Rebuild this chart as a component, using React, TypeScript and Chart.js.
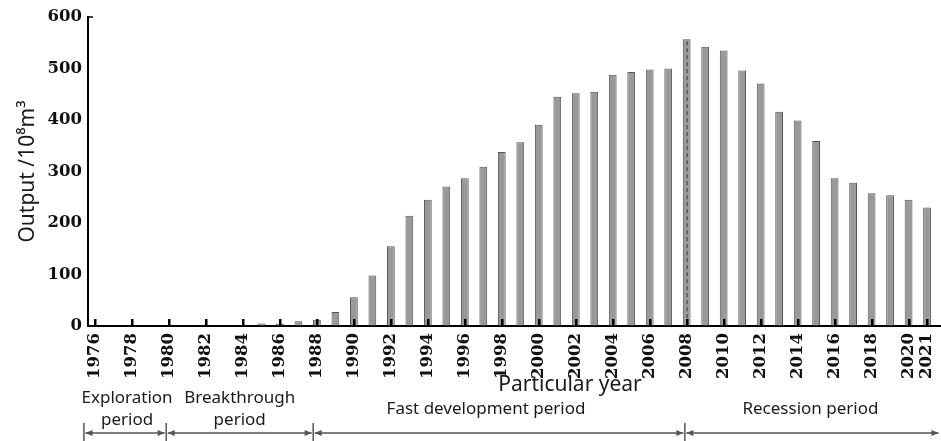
import { useEffect, useRef } from 'react';
import { Chart, registerables } from 'chart.js';

Chart.register(...registerables);

// ---- data ----
const years = [
  1976, 1977, 1978, 1979, 1980, 1981, 1982, 1983, 1984, 1985, 1986, 1987,
  1988, 1989, 1990, 1991, 1992, 1993, 1994, 1995, 1996, 1997, 1998, 1999,
  2000, 2001, 2002, 2003, 2004, 2005, 2006, 2007, 2008, 2009, 2010, 2011,
  2012, 2013, 2014, 2015, 2016, 2017, 2018, 2019, 2020, 2021,
];
const output = [
  0, 0, 0, 0, 0, 0, 0, 0, 0.5, 5, 5, 9,
  12, 27, 56, 98, 155, 214, 245, 271, 287, 309, 338, 357,
  391, 445, 452, 455, 488, 493, 498, 500, 557, 542, 535, 496,
  471, 416, 399, 359, 287, 278, 258, 254, 245, 230,
];
const tickYears = [
  1976, 1978, 1980, 1982, 1984, 1986, 1988, 1990, 1992, 1994, 1996, 1998,
  2000, 2002, 2004, 2006, 2008, 2010, 2012, 2014, 2016, 2018, 2020, 2021,
];
const yTicks = [0, 100, 200, 300, 400, 500, 600];
const dashedYear = 2008;
const periodNames = [
  ['Exploration', 'period'],
  ['Breakthrough', 'period'],
  ['Fast development period'],
  ['Recession period'],
];
const periodBounds = [1975.4, 1979.85, 1987.8, 2007.9, 2021.7];
const yTitle = 'Output /10\u2078m\u00B3';
const xTitle = 'Particular year';

// ---- layout / style ----
const W = 941;
const H = 441;
const periodLabelDx = [2, 0, -13, -2];

const annotationPlugin = {
  id: 'annotations',
  afterDraw(chart: any) {
    const ctx = chart.ctx;
    const xs = chart.scales.x;
    const ys = chart.scales.y;
    const area = chart.chartArea;
    ctx.save();

    // dashed line over 2008 bar
    const di = years.indexOf(dashedYear);
    const dx = xs.getPixelForValue(dashedYear);
    ctx.strokeStyle = '#3c3c3c';
    ctx.lineWidth = 1;
    ctx.setLineDash([4, 3]);
    ctx.beginPath();
    ctx.moveTo(dx + 0.5, ys.getPixelForValue(output[di]) + 2);
    ctx.lineTo(dx + 0.5, area.bottom);
    ctx.stroke();
    ctx.setLineDash([]);

    // inward x tick marks
    ctx.fillStyle = '#000';
    tickYears.forEach((yr) => {
      const px = Math.round(xs.getPixelForValue(yr));
      ctx.fillRect(px - 1, area.bottom - 7, 2.5, 7);
    });

    // top cap on y axis
    ctx.strokeStyle = '#000';
    ctx.lineWidth = 1.5;
    ctx.beginPath();
    ctx.moveTo(area.left, ys.getPixelForValue(600));
    ctx.lineTo(area.left + 5, ys.getPixelForValue(600));
    ctx.stroke();

    // x title
    ctx.fillStyle = '#1a1a1a';
    ctx.font = '21px "Noto Sans"';
    ctx.textAlign = 'center';
    ctx.textBaseline = 'middle';
    ctx.fillText(xTitle, 570, 385);

    // periods
    const arrowY = 433;
    ctx.strokeStyle = '#555';
    ctx.fillStyle = '#555';
    ctx.lineWidth = 1.5;
    const bx = periodBounds.map((b) => xs.getPixelForValue(b));
    for (let i = 0; i < bx.length - 1; i++) {
      ctx.beginPath();
      ctx.moveTo(bx[i], 423);
      ctx.lineTo(bx[i], 441);
      ctx.stroke();
    }
    for (let i = 0; i < bx.length - 1; i++) {
      const a = bx[i] + 1.5;
      const b = bx[i + 1] - 1.5;
      ctx.beginPath();
      ctx.moveTo(a, arrowY);
      ctx.lineTo(b, arrowY);
      ctx.stroke();
      ctx.beginPath();
      ctx.moveTo(a, arrowY);
      ctx.lineTo(a + 7, arrowY - 3);
      ctx.lineTo(a + 7, arrowY + 3);
      ctx.closePath();
      ctx.fill();
      ctx.beginPath();
      ctx.moveTo(b, arrowY);
      ctx.lineTo(b - 7, arrowY - 3);
      ctx.lineTo(b - 7, arrowY + 3);
      ctx.closePath();
      ctx.fill();

      const cx = (bx[i] + bx[i + 1]) / 2 + periodLabelDx[i];
      ctx.fillStyle = '#1a1a1a';
      ctx.font = '17px "Noto Sans"';
      const lines = periodNames[i];
      if (lines.length === 2) {
        ctx.fillText(lines[0], cx, 398);
        ctx.fillText(lines[1], cx, 420);
      } else {
        ctx.fillText(lines[0], cx, 409);
      }
      ctx.fillStyle = '#555';
    }
    ctx.restore();
  },
};

export default function App() {
  const ref = useRef<HTMLCanvasElement | null>(null);

  useEffect(() => {
    document.body.style.margin = '0';
    const canvas = ref.current;
    if (!canvas) return;
    const chart = new Chart(canvas, {
      type: 'bar',
      data: {
        datasets: [
          {
            data: years.map((yr, i) => ({ x: yr, y: output[i] })),
            backgroundColor: '#999999',
            borderColor: '#555555',
            borderWidth: 1,
            barPercentage: 0.42,
            categoryPercentage: 1,
          },
        ],
      },
      options: {
        animation: false,
        responsive: false,
        devicePixelRatio: 1,
        layout: { padding: { top: 17, right: 1, left: 0, bottom: 0 } },
        plugins: { legend: { display: false }, tooltip: { enabled: false } },
        scales: {
          x: {
            type: 'linear',
            min: 1975.62,
            max: 2021.7,
            offset: false,
            afterFit: (s: any) => {
              s.height = H - 326;
              s.paddingLeft = 0;
              s.paddingRight = 0;
            },
            afterBuildTicks: (s: any) => {
              s.ticks = tickYears.map((v) => ({ value: v }));
            },
            grid: { display: true, drawOnChartArea: false, drawTicks: false, offset: false },
            border: { display: true, color: '#000', width: 2 },
            ticks: {
              autoSkip: false,
              minRotation: 90,
              maxRotation: 90,
              padding: 7,
              color: '#111',
              font: { family: '"DejaVu Serif"', weight: 'bold', size: 16.5 },
              callback: (v: any) => String(v),
            },
          },
          y: {
            min: 0,
            max: 600,
            afterFit: (s: any) => {
              s.width = 88;
            },
            afterBuildTicks: (s: any) => {
              s.ticks = yTicks.map((v) => ({ value: v }));
            },
            grid: { display: true, drawOnChartArea: false, drawTicks: false },
            border: { display: true, color: '#000', width: 2 },
            ticks: {
              padding: 6,
              color: '#111',
              font: { family: '"DejaVu Serif"', weight: 'bold', size: 16.5 },
            },
            title: {
              display: true,
              text: yTitle,
              color: '#1a1a1a',
              padding: { top: 15, bottom: 0 },
              font: { family: '"Noto Sans"', size: 21 },
            },
          },
        },
      },
      plugins: [annotationPlugin],
    });
    return () => chart.destroy();
  }, []);

  return (
    <div style={{ width: W, height: H, position: 'relative' }}>
      <canvas ref={ref} width={W} height={H} style={{ display: 'block' }} />
    </div>
  );
}
